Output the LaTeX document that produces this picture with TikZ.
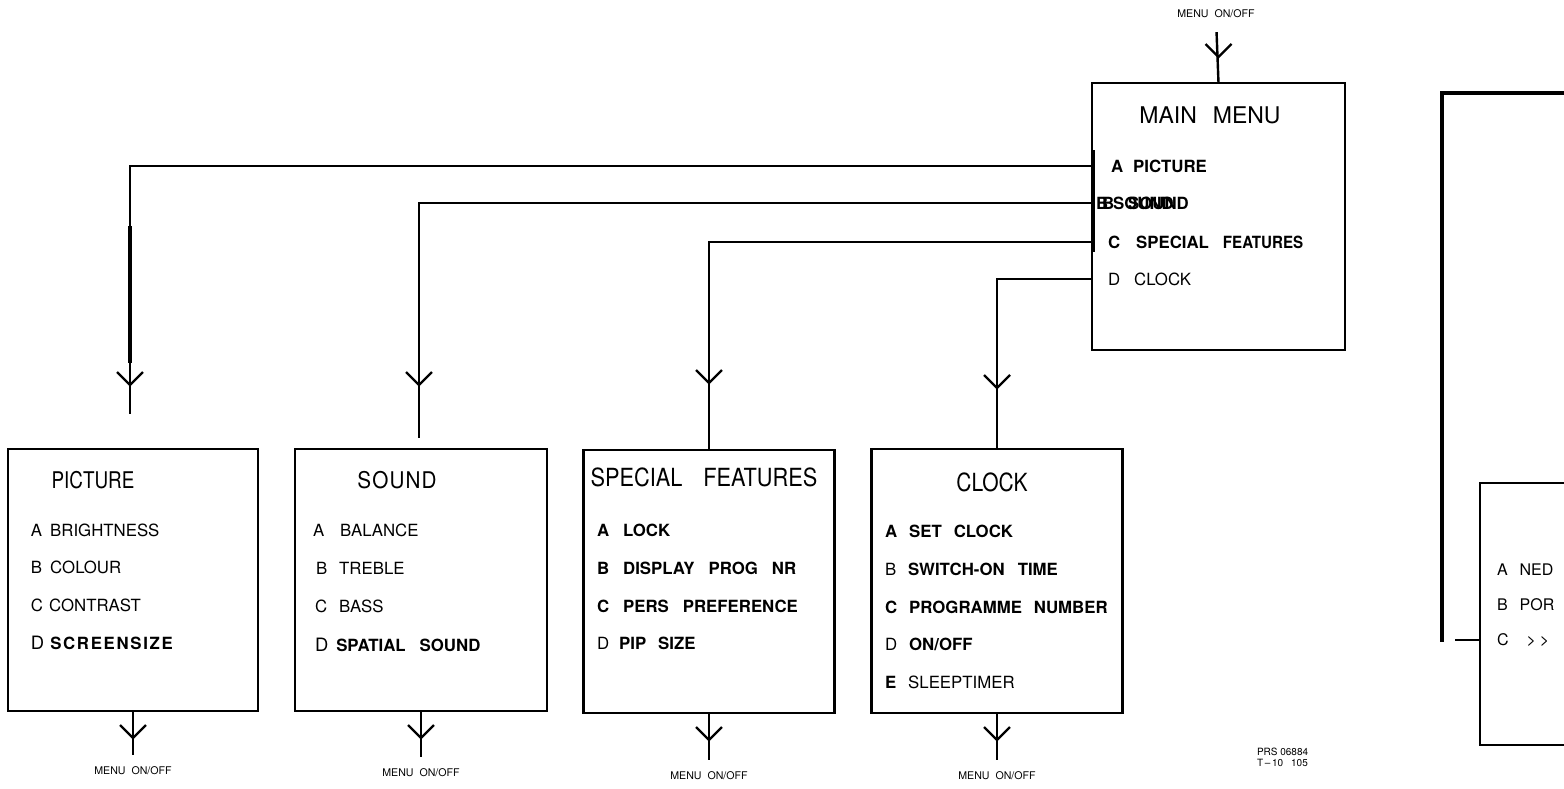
\documentclass[tikz,border=0pt]{standalone}
\usepackage{fontspec}
\usepackage{graphicx}
\setmainfont{TeX Gyre Heros}
\usetikzlibrary{calc}
% condensed lettering for the menu headings
\newcommand\cond[2][0.86]{\scalebox{#1}[1]{#2}}
% fixed gap between an item letter and its word
\newcommand\gp[1]{\hspace{#1pt}}
\begin{document}
\begin{tikzpicture}[x=0.5pt,y=-0.5pt,line width=1.2pt,
  every node/.style={inner sep=0pt,outer sep=0pt},
  boxnode/.style={draw,line width=1.3pt,anchor=north west,rectangle},
  itm/.style={anchor=west,font=\fontsize{8.4}{10}\selectfont},
  ttl/.style={font=\fontsize{11.5}{13}\selectfont},
  tinylbl/.style={font=\fontsize{5.3}{6}\selectfont},
  vmark/.pic={\draw[line width=1.2pt] (-13,-13) -- (0,0) -- (13,-13);}]
\useasboundingbox (0,0) rectangle (1564,788);
\clip (0,0) rectangle (1564,788);

% ---------------- main menu ----------------
\node[boxnode,minimum width=126.5pt,minimum height=133.5pt] (mm) at (1092,83) {};
\node[tinylbl] (top) at (1216,14) {MENU\gp{3}ON/OFF};
\draw[shorten <=7pt] (top.south) -- (mm.north);
\path (mm.north) ++(0,-26) pic {vmark};
\node[ttl] (mmT) at (1210,115) {MAIN\gp{8}MENU};
\node[itm] (mA) at (1111,166) {\bfseries A\gp{5}PICTURE};
\node[itm] (mB) at (1096,203) {\bfseries B\gp{2.5}SOUND};
\node[itm] (mBb) at (1102,203) {\bfseries B\gp{7}SOUND};
\node[itm] (mC) at (1108,242) {\bfseries C\gp{8}SPECIAL\gp{7}\cond[0.9]{FEATURES}};
\node[itm] (mD) at (1108,279) {D\gp{7}CLOCK};
% heavier stroke on the menu's left edge beside the items
\draw[line width=2pt] ($(mm.north west)+(1,67)$) -- ($(mm.north west)+(1,169)$);

% ---------------- sub menus ----------------
\node[boxnode,minimum width=125pt,minimum height=131pt] (pic) at (8,449) {};
\node[boxnode,minimum width=126pt,minimum height=131pt] (snd) at (295,449) {};
\node[boxnode,minimum width=125.5pt,minimum height=131.5pt] (spf) at (583.5,450) {};
\node[boxnode,minimum width=125.5pt,minimum height=132pt] (clk) at (871.5,449) {};

% PICTURE
\node[ttl] (picT) at (93,480) {\cond[0.82]{PICTURE}};
\node[itm] (pA) at (31,530) {A\gp{4}BRIGHTNESS};
\node[itm] (pB) at (31,567) {B\gp{4}COLOUR};
\node[itm] (pC) at (31,605) {C\gp{3}CONTRAST};
\node[itm] (pD) at (31,643) {\fontsize{9.2}{10}\selectfont D\gp{3}{\fontsize{8.4}{10}\selectfont\bfseries\addfontfeature{LetterSpace=10}SCREENSIZE}};

% SOUND
\node[ttl] (sndT) at (397,480) {\cond[0.9]{S\kern0.6pt O\kern0.6pt U\kern0.6pt N\kern0.6pt D}};
\node[itm] (sA) at (313,530) {A\gp{8}BALANCE};
\node[itm] (sB) at (316,568) {B\gp{6}TREBLE};
\node[itm] (sC) at (315,606) {C\gp{6}BASS};
\node[itm] (sD) at (315,645) {\fontsize{9.2}{10}\selectfont D\gp{4}{\fontsize{8.4}{10}\selectfont\bfseries SPATIAL\gp{7}SOUND}};

% SPECIAL FEATURES
\node[ttl] (spfT) at (704,477) {\fontsize{12.5}{14}\selectfont\cond[0.87]{SPECIAL\gp{12}FEATURES}};
\node[itm] (fA) at (597,530) {\bfseries A\gp{7}LOCK};
\node[itm] (fB) at (597,568) {\bfseries B\gp{7}DISPLAY\gp{7}PROG\gp{7}NR};
\node[itm] (fC) at (597,606) {\bfseries C\gp{7}PERS\gp{7}PREFERENCE};
\node[itm] (fD) at (597,643) {D\gp{5}{\bfseries PIP\gp{6}SIZE}};

% CLOCK
\node[ttl] (clkT) at (992,482) {\fontsize{12.5}{14}\selectfont\cond[0.84]{CLOCK}};
\node[itm] (cA) at (885,531) {\bfseries A\gp{6}SET\gp{6}CLOCK};
\node[itm] (cB) at (885,569) {B\gp{6}{\bfseries SWITCH-ON\gp{6.5}TIME}};
\node[itm] (cC) at (885,607) {\bfseries C\gp{6}PROGRAMME\gp{6}NUMBER};
\node[itm] (cD) at (885,644) {D\gp{6}{\bfseries ON/OFF}};
\node[itm] (cE) at (885,682) {{\bfseries E}\gp{6}SLEEPTIMER};

% ---------------- connectors from the main menu ----------------
\coordinate (picIn) at ([xshift=-1.5pt]pic.north);
\coordinate (sndIn) at ([xshift=-1pt]snd.north);
\coordinate (spfIn) at (spf.north);
\coordinate (clkIn) at (clk.north);
\draw[shorten >=17.5pt] (mm.west |- mA) -| (picIn);
\draw[shorten >=5.5pt] (mm.west |- mB) -| (sndIn);
\draw (mm.west |- mC) -| (spfIn);
\draw (mm.west |- mD) -| (clkIn);
\path (picIn) ++(0,-64) pic {vmark};
\path (sndIn) ++(0,-64) pic {vmark};
\path (spfIn) ++(0,-67) pic {vmark};
\path (clkIn) ++(0,-61) pic {vmark};
% heavier stretch of the PICTURE drop line
\draw[line width=2.2pt] ($(picIn)+(0,-223)$) -- ($(picIn)+(0,-86)$);

% ---------------- exits back to MENU ON/OFF ----------------
\node[tinylbl] (picX) at (133,771) {MENU\gp{3}ON/OFF};
\node[tinylbl] (sndX) at (421,773) {MENU\gp{3}ON/OFF};
\node[tinylbl] (spfX) at (709,776) {MENU\gp{3}ON/OFF};
\node[tinylbl] (clkX) at (997,776) {MENU\gp{3}ON/OFF};
\draw[shorten >=6pt] (pic.south) -- (pic.south |- picX.north);
\draw[shorten >=6pt] (snd.south) -- (snd.south |- sndX.north);
\draw[shorten >=6pt] (spf.south) -- (spf.south |- spfX.north);
\draw[shorten >=6pt] (clk.south) -- (clk.south |- clkX.north);
\path (pic.south) ++(0,27) pic {vmark};
\path (snd.south) ++(0,27) pic {vmark};
\path (spf.south) ++(0,27) pic {vmark};
\path (clk.south) ++(0,27) pic {vmark};

% drawing reference
\node[tinylbl,anchor=west,font=\fontsize{5}{6}\selectfont] (ref1) at (1257,752) {PRS 06884};
\node[tinylbl,anchor=west,font=\fontsize{5}{6}\selectfont] (ref2) at (1257,763) {T\,--\,10\gp{4}105};

% ---------------- neighbouring menu at the right edge ----------------
\coordinate (rTop) at (1564,93);
\coordinate (rCorner) at (1442,93);
\coordinate (rEnd) at (1442,642);
\draw[line width=1.6pt] (rTop) -- (rCorner) -- (rEnd);
\coordinate (bTR) at (1570,483);
\coordinate (bTL) at (1480,483);
\coordinate (bBL) at (1480,745);
\coordinate (bBR) at (1570,745);
\draw (bTR) -- (bTL) -- (bBL) -- (bBR);
\coordinate (stub) at (1455,640);
\draw (stub) -- (stub -| bTL);
\node[itm,font=\fontsize{8}{10}\selectfont] (nA) at (1497,570) {A\gp{6}NED};
\node[itm,font=\fontsize{8}{10}\selectfont] (nB) at (1497,605) {B\gp{6}POR};
\node[itm,font=\fontsize{8}{10}\selectfont] (nC) at (1497,640) {C\gp{9}>\gp{2}>};
\end{tikzpicture}
\end{document}
